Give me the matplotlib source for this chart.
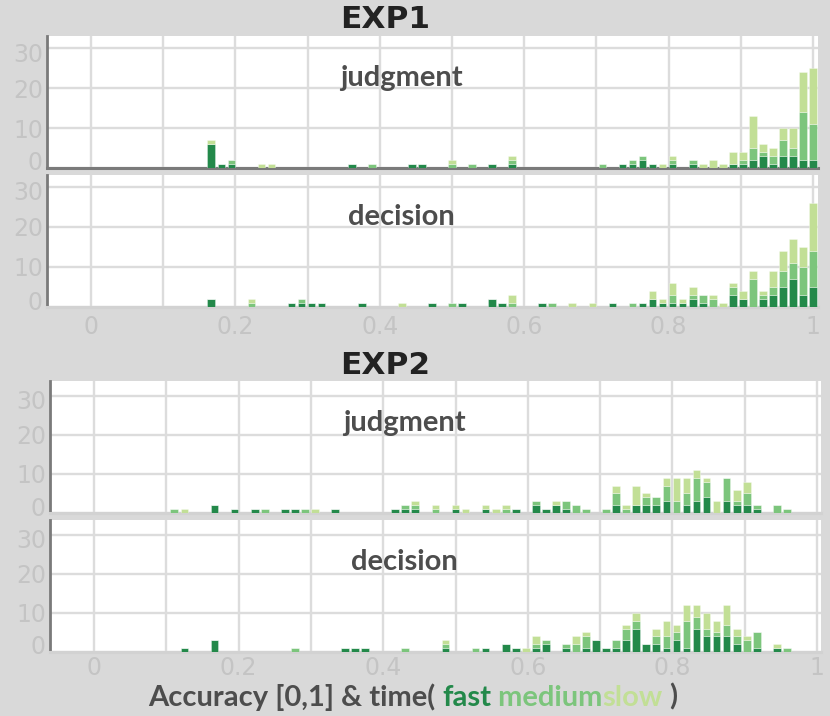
import numpy as np
import matplotlib
matplotlib.use("Agg")
import matplotlib.pyplot as plt
from matplotlib.text import Annotation
from matplotlib.transforms import ScaledTranslation

# accuracy is binned in steps of 1/72, bins are given as the bin index
BIN = 1 / 72

# EXP1 - judgment
e1j_bins = [12, 13, 14, 17, 18, 26, 28, 32, 33, 36, 38, 40, 42, 51, 53, 54, 55, 56, 57, 58,
            60, 61, 62, 63, 64, 65, 66, 67, 68, 69, 70, 71, 72]
e1j_fast = [6, 1, 1, 0, 0, 1, 0, 1, 1, 0, 0, 1, 1, 0, 1, 1, 2, 1, 0, 1,
            1, 0, 0, 0, 1, 1, 2, 3, 1, 3, 3, 2, 2]
e1j_med = [0, 0, 1, 0, 0, 0, 1, 0, 0, 1, 1, 0, 1, 1, 0, 1, 1, 0, 0, 1,
           1, 0, 0, 0, 0, 1, 3, 1, 2, 4, 2, 12, 9]
e1j_slow = [1, 0, 0, 1, 1, 0, 0, 0, 0, 1, 0, 0, 1, 0, 0, 0, 0, 0, 1, 1,
            0, 1, 2, 1, 3, 2, 8, 2, 2, 3, 5, 10, 14]

# EXP1 - decision
e1d_bins = [12, 16, 20, 21, 22, 23, 27, 31, 34, 36, 37, 40, 41, 42, 45, 46, 48, 50, 52, 54,
            55, 56, 57, 58, 59, 60, 61, 62, 63, 64, 65, 66, 67, 68, 69, 70, 71, 72]
e1d_fast = [2, 0, 1, 1, 1, 1, 1, 0, 1, 0, 1, 2, 1, 0, 1, 0, 0, 0, 1, 0,
            1, 2, 1, 1, 1, 2, 1, 0, 0, 3, 2, 0, 2, 3, 5, 7, 3, 5]
e1d_med = [0, 1, 0, 1, 0, 0, 0, 0, 0, 1, 0, 0, 0, 1, 0, 1, 0, 0, 0, 1,
           0, 0, 0, 2, 0, 1, 2, 2, 0, 2, 0, 7, 1, 2, 4, 4, 7, 9]
e1d_slow = [0, 1, 0, 0, 0, 0, 0, 1, 0, 0, 0, 0, 0, 2, 0, 0, 1, 1, 0, 0,
            0, 2, 1, 3, 1, 2, 0, 1, 1, 1, 2, 2, 1, 4, 5, 6, 5, 12]

# EXP2 - judgment
e2j_bins = [8, 9, 12, 14, 16, 17, 19, 20, 21, 22, 24, 30, 31, 32, 34, 36, 37, 39, 40, 41,
            42, 44, 45, 46, 47, 48, 49, 51, 52, 53, 54, 55, 56, 57, 58, 59, 60, 61, 62, 63,
            64, 65, 66, 68, 69]
e2j_fast = [0, 0, 2, 1, 1, 0, 1, 1, 0, 0, 1, 1, 1, 1, 0, 1, 0, 1, 0, 0,
            1, 2, 1, 2, 1, 0, 0, 0, 2, 0, 2, 2, 2, 3, 0, 2, 3, 4, 0, 3,
            2, 2, 1, 0, 0]
e2j_med = [1, 0, 0, 0, 0, 1, 0, 0, 1, 0, 0, 0, 1, 1, 1, 0, 0, 0, 0, 1,
           0, 1, 0, 0, 2, 2, 1, 1, 3, 1, 0, 2, 2, 4, 3, 3, 6, 4, 0, 6,
           1, 3, 1, 2, 1]
e2j_slow = [0, 1, 0, 0, 0, 0, 0, 0, 0, 1, 0, 0, 0, 1, 1, 1, 1, 1, 1, 1,
            0, 0, 0, 1, 0, 0, 0, 0, 2, 1, 5, 1, 0, 2, 6, 4, 2, 1, 3, 0,
            3, 3, 0, 0, 0]

# EXP2 - decision
e2d_bins = [9, 12, 20, 25, 26, 27, 31, 35, 38, 39, 41, 42, 43, 44, 45, 47, 48, 49, 50, 51,
            52, 53, 54, 55, 56, 57, 58, 59, 60, 61, 62, 63, 64, 65, 66, 68, 69]
e2d_fast = [1, 3, 0, 1, 1, 1, 0, 1, 0, 1, 2, 1, 0, 1, 2, 1, 0, 1, 3, 1,
            1, 3, 6, 2, 2, 1, 3, 1, 6, 4, 4, 4, 2, 0, 1, 1, 0]
e2d_med = [0, 0, 1, 0, 0, 0, 1, 1, 1, 0, 0, 0, 0, 1, 1, 1, 2, 3, 0, 0,
           2, 3, 2, 0, 2, 3, 2, 7, 3, 2, 1, 3, 2, 3, 4, 0, 1]
e2d_slow = [0, 0, 0, 0, 0, 0, 0, 1, 0, 0, 0, 0, 1, 2, 0, 0, 2, 1, 0, 0,
            0, 1, 2, 0, 2, 4, 2, 4, 3, 4, 3, 5, 2, 1, 0, 1, 0]

x_ticks = np.arange(0, 1.001, 0.1)
x_labels = ["0", "", "0.2", "", "0.4", "", "0.6", "", "0.8", "", "1"]
y_ticks = [0, 10, 20, 30]

C_FAST = "#23894a"
C_MED = "#7cc57c"
C_SLOW = "#c2df96"
BG = "#d9d9d9"
GRID = "#dcdcdc"
TICK = "#c4c4c4"
TXT = "#4d4d4d"

W, H = 830, 716
fig = plt.figure(figsize=(W / 100, H / 100), dpi=100, facecolor=BG)


def px_axes(left, top, right, bottom):
    return fig.add_axes([left / W, 1 - bottom / H, (right - left) / W, (bottom - top) / H])


def draw_panel(ax, px_lr, bins, fast, med, slow, label, x0, xscale, ytop, dark_base, show_x, xpad):
    x = np.array(bins) * BIN
    f = np.array(fast)
    m = np.array(med)
    s = np.array(slow)
    kw = dict(width=0.77 * BIN, edgecolor=(1, 1, 1, 0.45), linewidth=0.5, zorder=3)
    ax.bar(x, f, color=C_FAST, **kw)
    ax.bar(x, m, bottom=f, color=C_MED, **kw)
    ax.bar(x, s, bottom=f + m, color=C_SLOW, **kw)

    # pixel positions of 0 and 1 on the x axis give the limits
    ax.set_xlim((px_lr[0] - x0) / xscale, (px_lr[1] - x0) / xscale)
    ax.set_ylim(0, ytop)
    ax.set_facecolor("white")
    ax.set_xticks(x_ticks)
    ax.set_xticklabels(x_labels if show_x else [])
    ax.set_yticks(y_ticks)
    ax.set_yticklabels([str(v) for v in y_ticks])
    ax.tick_params(length=0, labelsize=17, labelcolor=TICK)
    ax.tick_params(axis="y", pad=3)
    ax.tick_params(axis="x", pad=xpad)
    ax.grid(True, color=GRID, linewidth=1.7, zorder=0)
    ax.set_axisbelow(True)
    for side in ["top", "right"]:
        ax.spines[side].set_visible(False)
    ax.spines["left"].set_color("#7a7a7a")
    ax.spines["left"].set_linewidth(2)
    ax.spines["bottom"].set_color("#7a7a7a" if dark_base else "#d2d2d2")
    ax.spines["bottom"].set_linewidth(2.2)
    # the 0 and 30 labels sit a little off their grid lines in the original
    ylabs = ax.get_yticklabels()
    ylabs[0].set_transform(ylabs[0].get_transform() + ScaledTranslation(0, 7 / 100, fig.dpi_scale_trans))
    ylabs[3].set_transform(ylabs[3].get_transform() + ScaledTranslation(0, -4 / 100, fig.dpi_scale_trans))
    ax.text(0.459, 0.68, label, transform=ax.transAxes, ha="center", va="center",
            fontsize=21, fontweight="bold", color=TXT, family="Lato", zorder=5)


ax1 = px_axes(47, 36, 818, 168)
ax2 = px_axes(47, 175, 818, 307)
ax3 = px_axes(50, 381, 821, 513)
ax4 = px_axes(50, 520, 821, 652)

draw_panel(ax1, (47, 818), e1j_bins, e1j_fast, e1j_med, e1j_slow, "judgment", 91, 722, 33, True, False, 6)
draw_panel(ax2, (47, 818), e1d_bins, e1d_fast, e1d_med, e1d_slow, "decision", 91, 722, 33, False, True, 6)
draw_panel(ax3, (50, 821), e2j_bins, e2j_fast, e2j_med, e2j_slow, "judgment", 94, 723, 33.8, False, False, 3)
draw_panel(ax4, (50, 821), e2d_bins, e2d_fast, e2d_med, e2d_slow, "decision", 94, 723, 33.8, False, True, 3)

fig.text(385 / W, 1 - 20 / H, "EXP1", ha="center", va="center", fontsize=22.5,
         fontweight="bold", color="#222222")
fig.text(385 / W, 1 - 365 / H, "EXP2", ha="center", va="center", fontsize=22.5,
         fontweight="bold", color="#222222")

# x label with coloured speed words, each piece placed right after the previous one
parts = [("Accuracy [0,1] & time( ", TXT), ("fast", C_FAST), (" medium", C_MED),
         ("slow", C_SLOW), (" )", TXT)]
last = fig.text(148 / W, 1 - 697 / H, parts[0][0], ha="left", va="center", fontsize=21,
                fontweight="bold", color=parts[0][1], family="Lato")
for txt, col in parts[1:]:
    last = fig.add_artist(Annotation(txt, xy=(1, 0), xycoords=last, va="bottom", ha="left",
                                     fontsize=21, fontweight="bold", color=col, family="Lato"))

fig.savefig("out.png", dpi=100, facecolor=BG)
